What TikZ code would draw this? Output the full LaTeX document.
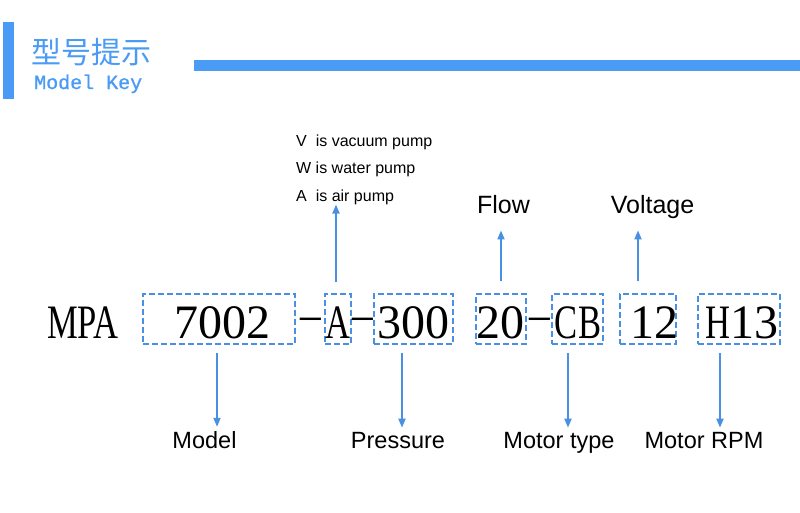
\documentclass[tikz,border=0pt]{standalone}
\usepackage{fontspec}
\setmainfont{Liberation Sans}
\newfontfamily\cjkfont{Noto Sans CJK SC}
\newfontfamily\keymono[FakeBold=1]{Liberation Mono}
\newfontfamily\codedigits{Liberation Serif}
\newfontfamily\codeletters[FakeStretch=0.72]{Liberation Serif}
\newfontfamily\codedash[FakeStretch=0.86]{Liberation Serif}
\usetikzlibrary{arrows.meta}
\definecolor{barblue}{RGB}{74,155,245}
\definecolor{boxblue}{RGB}{74,144,226}
\definecolor{arrblue}{RGB}{74,144,226}
\begin{document}
\begin{tikzpicture}[x=1pt,y=-1pt,
 codetext/.style={inner sep=0pt, anchor=base, font=\fontsize{48}{48}\selectfont\codedigits},
 codebox/.style={draw=boxblue, line width=1.5pt, dash pattern=on 6pt off 3pt, inner sep=0pt, minimum height=50pt},
 lbl/.style={inner sep=0pt, anchor=base, font=\fontsize{23.5}{28}\selectfont},
 toplbl/.style={inner sep=0pt, anchor=base, font=\fontsize{25}{30}\selectfont},
 note/.style={inner sep=0pt, anchor=base west, font=\fontsize{16}{20}\selectfont},
 arr/.style={draw=arrblue, line width=1.8pt, -{Triangle[length=9pt,width=7pt]}},
]
\useasboundingbox (0,0) rectangle (800,512);
\fill[white] (0,0) rectangle (800,512);
% header
\fill[barblue] (3,22) rectangle (14,99);
\fill[barblue] (194,60) rectangle (800,71);
\node[anchor=base west, inner sep=0pt, text=barblue, font=\fontsize{30}{30}\selectfont\cjkfont] (title) at (31,63) {型号提示};
\node[anchor=base west, inner sep=0pt, text=barblue, font=\fontsize{20}{20}\selectfont\keymono] (key) at (34,89) {Model Key};
% boxes
\node[codebox, minimum width=152pt] (b1) at (219,319) {};
\node[codebox, minimum width=26pt] (b2) at (338,319) {};
\node[codebox, minimum width=79pt] (b3) at (413.5,319) {};
\node[codebox, minimum width=50pt] (b4) at (501,319) {};
\node[codebox, minimum width=51pt] (b5) at (577.5,319) {};
\node[codebox, minimum width=56pt] (b6) at (648,319) {};
\node[codebox, minimum width=82pt] (b7) at (739,319) {};
% code text
\node[codetext] (t0) at (83,338) {\codeletters MPA};
\node[codetext] (t1) at (222.5,338) {7002};
\node[codetext] (t2) at (337.5,338) {\codeletters A};
\node[codetext] (t3) at (413,338) {300};
\node[codetext] (t4) at (500,338) {20};
\node[codetext] (t5) at (578,338) {\codeletters CB};
\node[codetext] (t6) at (654,338) {12};
\node[codetext] (t7) at (742,338) {{\codeletters H}13};
\node[codetext] (d1) at (311,330) {\codedash –};
\node[codetext] (d2) at (362.5,330) {\codedash –};
\node[codetext] (d3) at (540,330) {\codedash –};
% notes
\node[note] (nv) at (296,146) {V\ \ is vacuum pump};
\node[note] (nw) at (296,173) {W is water pump};
\node[note] (na) at (296,201) {A\ \ is air pump};
\node[toplbl] (flow) at (503.5,213) {Flow};
\node[toplbl] (volt) at (652.5,213) {Voltage};
% bottom labels
\node[lbl] (model) at (204.5,448) {Model};
\node[lbl] (press) at (398,448) {Pressure};
\node[lbl] (mtype) at (559,448) {Motor type};
\node[lbl] (mrpm) at (704,448) {Motor RPM};
% arrows up
\draw[arr] ([xshift=-2pt,yshift=11pt]b2.north) -- ([xshift=-2pt]b2.north |- na.south);
\draw[arr] ([yshift=12pt]b4.north) -- ([yshift=-17pt]b4.north |- flow.south);
\draw[arr] ([xshift=-10pt,yshift=12pt]b6.north) -- ([xshift=-10pt,yshift=-12pt]b6.north |- volt.south);
% arrows down
\draw[arr] ([xshift=-2pt,yshift=-8pt]b1.south) -- ([xshift=-2pt,yshift=4pt]b1.south |- model.north);
\draw[arr] ([xshift=-11.5pt,yshift=-8pt]b3.south) -- ([xshift=-11.5pt,yshift=4pt]b3.south |- press.north);
\draw[arr] ([xshift=-9.5pt,yshift=-8pt]b5.south) -- ([xshift=-9.5pt,yshift=4pt]b5.south |- mtype.north);
\draw[arr] ([xshift=-19pt,yshift=-8pt]b7.south) -- ([xshift=-19pt,yshift=4pt]b7.south |- mrpm.north);
\end{tikzpicture}
\end{document}
